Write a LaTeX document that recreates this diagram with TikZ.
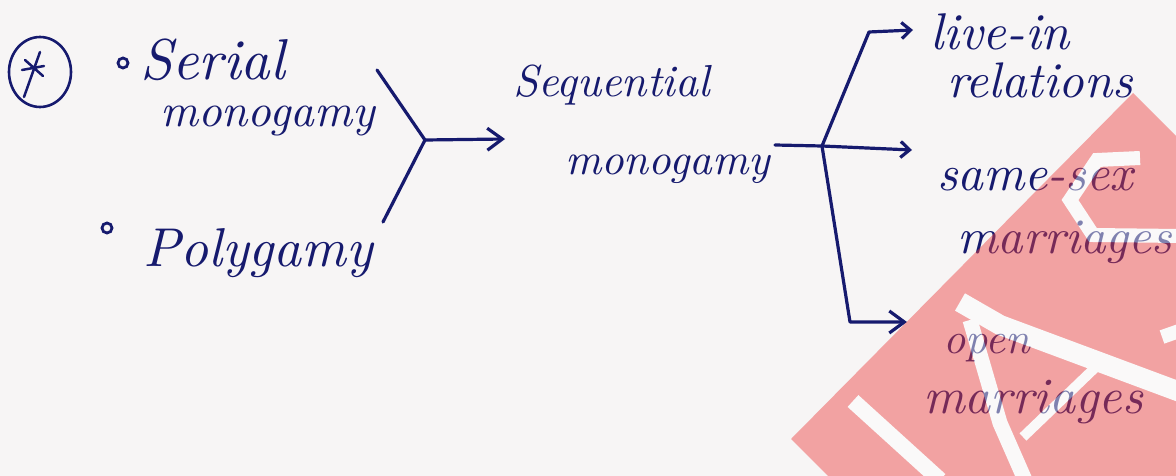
\documentclass[tikz,border=0pt]{standalone}
\usepackage{fontspec}
\usepackage{graphicx}
\usetikzlibrary{arrows.meta,shapes.geometric}
\definecolor{ink}{RGB}{22,26,110}
\definecolor{paper}{RGB}{247,245,245}
\definecolor{wmred}{RGB}{236,63,63}
\newcommand{\hw}[2]{\resizebox{#1}{!}{\itshape #2}}
\begin{document}
\begin{tikzpicture}[x=1pt,y=-1pt,
  lbl/.style={inner sep=0pt, outer sep=0pt, text=ink, anchor=base west},
  con/.style={draw=ink, line width=3.2pt, line cap=round, line join=round},
  arrbig/.style={con, -{Straight Barb[length=15pt,width=22pt]}},
  arrsmall/.style={con, -{Straight Barb[length=9pt,width=16pt]}},
  bul/.style={circle, draw=ink, line width=2.8pt, minimum size=10pt, inner sep=0pt},
  wmstrip/.style={draw=white, line width=#1, line join=miter}
]
\useasboundingbox (0,0) rectangle (1176,476);
\fill[paper] (0,0) rectangle (1176,476);

% circled asterisk
\node[draw=ink, ellipse, line width=2.6pt, minimum width=62pt, minimum height=70pt, inner sep=0pt] (star) at (40,72) {};
\draw[con, line width=2.5pt, shift={(star.center)}] (0,-20) -- (-16,25) (-18,-2) -- (4,-6) (-15,-12) -- (3,4);

% bullets
\node[bul] (bu1) at (123,63) {};
\node[bul] (bu2) at (107,228) {};

% texts
\node[lbl] (serial) at (140,80) {\hw{145pt}{Serial}};
\node[lbl] (mono1) at (160,127) {\hw{215pt}{monogamy}};
\node[lbl] (poly) at (143,266) {\hw{230pt}{Polygamy}};
\node[lbl] (seq) at (513,97) {\hw{197pt}{Sequential}};
\node[lbl] (mono2) at (565,175) {\hw{205pt}{monogamy}};
\node[lbl] (live) at (930,50) {\hw{140pt}{live-in}};
\node[lbl] (rel) at (947,98) {\hw{186pt}{relations}};
\node[lbl] (same) at (937,190) {\hw{196pt}{same-sex}};
\node[lbl] (mar1) at (957,253) {\hw{215pt}{marriages}};
\node[lbl] (open) at (943,353) {\hw{87pt}{open}};
\node[lbl] (mar2) at (923,413) {\hw{220pt}{marriages}};

% connectors
\coordinate (bt) at (377,70);
\coordinate (j1) at (425,140);
\coordinate (bb) at (383,222);
\coordinate (t1) at (505,139);
\draw[con] (bt) -- (j1) -- (bb);
\draw[arrbig] (j1) -- (t1);

\coordinate (m2) at (775,145);
\coordinate (j2) at (822,146);
\coordinate (u1) at (869,32);
\coordinate (t2) at (913,30);
\coordinate (t3) at (912,150);
\coordinate (d1) at (850,322);
\coordinate (t4) at (907,322);
\draw[con] (m2) -- (j2);
\draw[arrsmall] (j2) -- (u1) -- (t2);
\draw[arrsmall] (j2) -- (t3);
\draw[arrbig] (j2) -- (d1) -- (t4);

% watermark
\begin{scope}[transparency group, opacity=0.45]
  \clip (1133,93) -- (1176,136) -- (1176,476) -- (828,476) -- (791,439) -- cycle;
  \fill[wmred] (700,0) rectangle (1176,476);
  \draw[wmstrip=16pt] (853,401) -- (940,480);
  \draw[wmstrip=20pt] (960,302) -- (1000,325) -- (1180,392);
  \draw[wmstrip=15pt] (970,320) -- (1000,423) -- (1025,480);
  \draw[wmstrip=10pt] (1100,363) -- (1023,437);
  \draw[wmstrip=14pt] (1140,158) -- (1097,160) -- (1070,200) -- (1093,235) -- (1180,236);
  \draw[wmstrip=14pt] (1162,337) -- (1182,330);
\end{scope}
\end{tikzpicture}
\end{document}
